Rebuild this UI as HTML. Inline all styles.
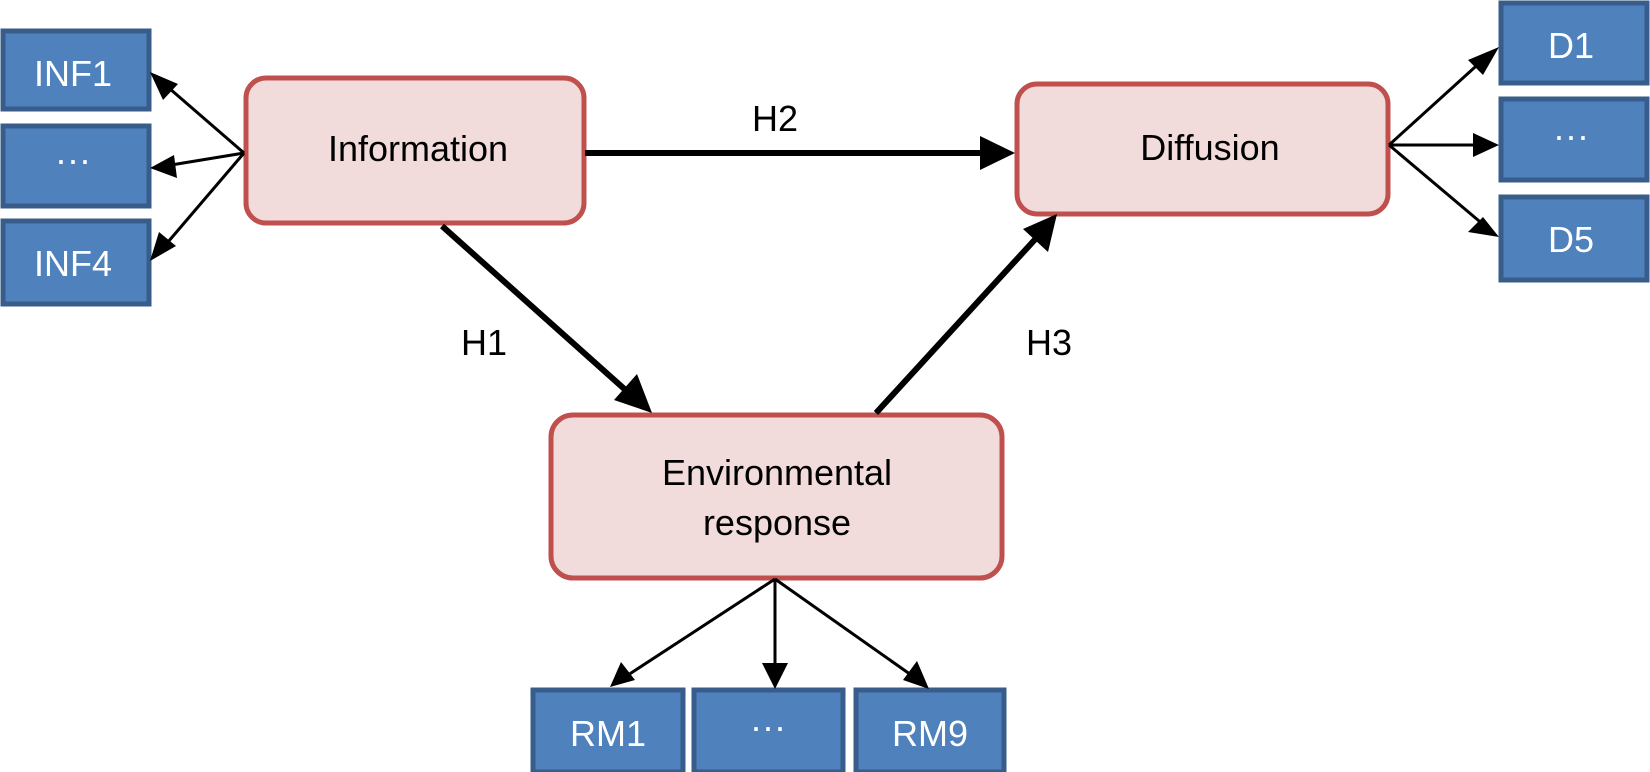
<!DOCTYPE html>
<html><head><meta charset="utf-8"><style>
html,body{margin:0;padding:0;background:#fff;}
svg{display:block;}
text{font-family:"Liberation Sans",sans-serif;}
</style></head><body>
<svg width="1650" height="772" viewBox="0 0 1650 772" xmlns="http://www.w3.org/2000/svg">
<defs>
<marker id="a" markerWidth="10" markerHeight="10" refX="9" refY="5" orient="auto" markerUnits="userSpaceOnUse" viewBox="0 0 10 10">
</marker>
</defs>
<g fill="#4f81bd" stroke="#385d8a" stroke-width="5">
<rect x="3" y="31" width="146" height="78"/>
<rect x="3" y="126" width="146" height="80"/>
<rect x="3" y="221" width="146" height="83"/>
<rect x="1501" y="3" width="146" height="80"/>
<rect x="1501" y="99" width="146" height="81"/>
<rect x="1501" y="197" width="146" height="83"/>
<rect x="533" y="690" width="150" height="82"/>
<rect x="694" y="690" width="149" height="82"/>
<rect x="856" y="690" width="148" height="82"/>
</g>
<g fill="#f2dcdb" stroke="#c0504d" stroke-width="5">
<rect x="246" y="78" width="338" height="145" rx="20"/>
<rect x="1017" y="84" width="371" height="130" rx="20"/>
<rect x="551" y="415" width="451" height="163" rx="22"/>
</g>
<g fill="#fff" font-size="36" text-anchor="middle">
<text x="73" y="86">INF1</text>
<text x="73" y="172">···</text>
<text x="73" y="276">INF4</text>
<text x="1571" y="58">D1</text>
<text x="1571" y="148">···</text>
<text x="1571" y="252">D5</text>
<text x="608" y="746">RM1</text>
<text x="768" y="739">···</text>
<text x="930" y="746">RM9</text>
</g>
<g fill="#000" font-size="36" text-anchor="middle">
<text x="418" y="161">Information</text>
<text x="1210" y="160">Diffusion</text>
<text x="777" y="485">Environmental</text>
<text x="777" y="535">response</text>
<text x="775" y="131">H2</text>
<text x="484" y="355">H1</text>
<text x="1049" y="355">H3</text>
</g>
<g stroke="#000" stroke-width="3" fill="none">
<line x1="244" y1="153" x2="162" y2="82"/>
<line x1="244" y1="153" x2="165" y2="166"/>
<line x1="244" y1="153" x2="162" y2="249"/>
<line x1="1389" y1="145" x2="1485" y2="58"/>
<line x1="1389" y1="145" x2="1482" y2="145"/>
<line x1="1389" y1="145" x2="1485" y2="226"/>
<line x1="775" y1="579" x2="625" y2="677"/>
<line x1="775" y1="579" x2="775" y2="670"/>
<line x1="775" y1="579" x2="914" y2="677"/>
</g>
<g stroke="#000" stroke-width="6" fill="none">
<line x1="585" y1="153" x2="990" y2="153"/>
<line x1="442" y1="226" x2="630" y2="394"/>
<line x1="876" y1="413" x2="1040" y2="234"/>
</g>
<g fill="#000">
<polygon points="150,72 178,84 163,100"/>
<polygon points="150,168 174,155 177,178"/>
<polygon points="150,261 159,232 176,246"/>
<polygon points="1499,47 1483,75 1468,60"/>
<polygon points="1499,145 1473,133 1473,157"/>
<polygon points="1499,237 1468,232 1483,217"/>
<polygon points="610,687 621,662 635,680"/>
<polygon points="775,689 762,663 788,663"/>
<polygon points="929,689 903,680 917,661"/>
<polygon points="1015,153 980,136 980,170"/>
<polygon points="652,413 614,400 637,374"/>
<polygon points="1057,214 1048,252 1023,229"/>
</g>
</svg>
</body></html>
